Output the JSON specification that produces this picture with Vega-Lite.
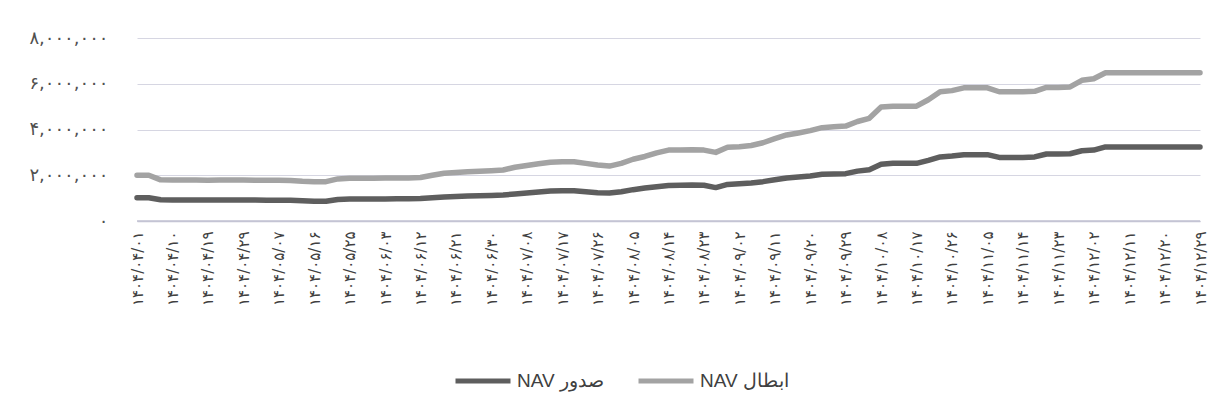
{
  "$schema": "https://vega.github.io/schema/vega-lite/v6.json",
  "width": 1063,
  "height": 183,
  "autosize": {"type": "none"},
  "padding": {"left": 137, "top": 38, "right": 22, "bottom": 195},
  "background": "white",
  "config": {"view": {"stroke": null}},
  "layer": [
    {
      "data": {"values": [
        {"date": "1404/04/01", "issue": 1020000, "redeem": 2000000},
        {"date": "1404/04/04", "issue": 1020000, "redeem": 2000000},
        {"date": "1404/04/07", "issue": 930000, "redeem": 1800000},
        {"date": "1404/04/10", "issue": 920000, "redeem": 1790000},
        {"date": "1404/04/13", "issue": 920000, "redeem": 1790000},
        {"date": "1404/04/16", "issue": 920000, "redeem": 1790000},
        {"date": "1404/04/19", "issue": 915000, "redeem": 1785000},
        {"date": "1404/04/22", "issue": 920000, "redeem": 1790000},
        {"date": "1404/04/25", "issue": 920000, "redeem": 1795000},
        {"date": "1404/04/29", "issue": 920000, "redeem": 1790000},
        {"date": "1404/05/01", "issue": 915000, "redeem": 1785000},
        {"date": "1404/05/04", "issue": 910000, "redeem": 1780000},
        {"date": "1404/05/07", "issue": 910000, "redeem": 1780000},
        {"date": "1404/05/10", "issue": 905000, "redeem": 1775000},
        {"date": "1404/05/13", "issue": 880000, "redeem": 1740000},
        {"date": "1404/05/16", "issue": 860000, "redeem": 1720000},
        {"date": "1404/05/19", "issue": 860000, "redeem": 1720000},
        {"date": "1404/05/22", "issue": 940000, "redeem": 1840000},
        {"date": "1404/05/25", "issue": 960000, "redeem": 1870000},
        {"date": "1404/05/28", "issue": 960000, "redeem": 1870000},
        {"date": "1404/05/31", "issue": 965000, "redeem": 1870000},
        {"date": "1404/06/03", "issue": 965000, "redeem": 1875000},
        {"date": "1404/06/06", "issue": 970000, "redeem": 1880000},
        {"date": "1404/06/09", "issue": 975000, "redeem": 1885000},
        {"date": "1404/06/12", "issue": 985000, "redeem": 1900000},
        {"date": "1404/06/15", "issue": 1020000, "redeem": 2000000},
        {"date": "1404/06/18", "issue": 1050000, "redeem": 2090000},
        {"date": "1404/06/21", "issue": 1070000, "redeem": 2120000},
        {"date": "1404/06/24", "issue": 1090000, "redeem": 2150000},
        {"date": "1404/06/27", "issue": 1100000, "redeem": 2170000},
        {"date": "1404/06/30", "issue": 1120000, "redeem": 2200000},
        {"date": "1404/07/02", "issue": 1140000, "redeem": 2230000},
        {"date": "1404/07/05", "issue": 1180000, "redeem": 2350000},
        {"date": "1404/07/08", "issue": 1220000, "redeem": 2430000},
        {"date": "1404/07/11", "issue": 1270000, "redeem": 2500000},
        {"date": "1404/07/14", "issue": 1310000, "redeem": 2570000},
        {"date": "1404/07/17", "issue": 1320000, "redeem": 2590000},
        {"date": "1404/07/20", "issue": 1320000, "redeem": 2590000},
        {"date": "1404/07/23", "issue": 1280000, "redeem": 2520000},
        {"date": "1404/07/26", "issue": 1240000, "redeem": 2450000},
        {"date": "1404/07/29", "issue": 1220000, "redeem": 2400000},
        {"date": "1404/08/02", "issue": 1280000, "redeem": 2520000},
        {"date": "1404/08/05", "issue": 1370000, "redeem": 2700000},
        {"date": "1404/08/08", "issue": 1440000, "redeem": 2820000},
        {"date": "1404/08/11", "issue": 1500000, "redeem": 2980000},
        {"date": "1404/08/14", "issue": 1550000, "redeem": 3100000},
        {"date": "1404/08/17", "issue": 1560000, "redeem": 3100000},
        {"date": "1404/08/20", "issue": 1570000, "redeem": 3120000},
        {"date": "1404/08/23", "issue": 1560000, "redeem": 3100000},
        {"date": "1404/08/26", "issue": 1460000, "redeem": 3000000},
        {"date": "1404/08/29", "issue": 1600000, "redeem": 3220000},
        {"date": "1404/09/02", "issue": 1630000, "redeem": 3250000},
        {"date": "1404/09/05", "issue": 1660000, "redeem": 3300000},
        {"date": "1404/09/08", "issue": 1720000, "redeem": 3420000},
        {"date": "1404/09/11", "issue": 1800000, "redeem": 3600000},
        {"date": "1404/09/14", "issue": 1880000, "redeem": 3760000},
        {"date": "1404/09/17", "issue": 1920000, "redeem": 3850000},
        {"date": "1404/09/20", "issue": 1970000, "redeem": 3950000},
        {"date": "1404/09/23", "issue": 2040000, "redeem": 4080000},
        {"date": "1404/09/26", "issue": 2060000, "redeem": 4120000},
        {"date": "1404/09/29", "issue": 2070000, "redeem": 4150000},
        {"date": "1404/10/02", "issue": 2180000, "redeem": 4350000},
        {"date": "1404/10/05", "issue": 2240000, "redeem": 4490000},
        {"date": "1404/10/08", "issue": 2480000, "redeem": 4980000},
        {"date": "1404/10/11", "issue": 2520000, "redeem": 5020000},
        {"date": "1404/10/14", "issue": 2520000, "redeem": 5020000},
        {"date": "1404/10/17", "issue": 2520000, "redeem": 5020000},
        {"date": "1404/10/20", "issue": 2650000, "redeem": 5300000},
        {"date": "1404/10/23", "issue": 2800000, "redeem": 5650000},
        {"date": "1404/10/26", "issue": 2840000, "redeem": 5700000},
        {"date": "1404/10/29", "issue": 2900000, "redeem": 5820000},
        {"date": "1404/11/02", "issue": 2900000, "redeem": 5820000},
        {"date": "1404/11/05", "issue": 2900000, "redeem": 5820000},
        {"date": "1404/11/08", "issue": 2780000, "redeem": 5650000},
        {"date": "1404/11/11", "issue": 2780000, "redeem": 5650000},
        {"date": "1404/11/14", "issue": 2780000, "redeem": 5650000},
        {"date": "1404/11/17", "issue": 2800000, "redeem": 5670000},
        {"date": "1404/11/20", "issue": 2930000, "redeem": 5840000},
        {"date": "1404/11/23", "issue": 2930000, "redeem": 5840000},
        {"date": "1404/11/26", "issue": 2940000, "redeem": 5860000},
        {"date": "1404/11/29", "issue": 3070000, "redeem": 6150000},
        {"date": "1404/12/02", "issue": 3100000, "redeem": 6220000},
        {"date": "1404/12/05", "issue": 3240000, "redeem": 6480000},
        {"date": "1404/12/08", "issue": 3240000, "redeem": 6480000},
        {"date": "1404/12/11", "issue": 3240000, "redeem": 6480000},
        {"date": "1404/12/14", "issue": 3240000, "redeem": 6480000},
        {"date": "1404/12/17", "issue": 3240000, "redeem": 6480000},
        {"date": "1404/12/20", "issue": 3240000, "redeem": 6480000},
        {"date": "1404/12/23", "issue": 3240000, "redeem": 6480000},
        {"date": "1404/12/26", "issue": 3240000, "redeem": 6480000},
        {"date": "1404/12/29", "issue": 3240000, "redeem": 6480000}
      ]},
      "transform": [{"fold": ["issue", "redeem"], "as": ["series", "nav"]}],
      "mark": {"type": "line", "strokeWidth": 5.5, "strokeCap": "round", "strokeJoin": "round"},
      "encoding": {
        "x": {
          "field": "date", "type": "ordinal", "sort": null,
          "scale": {"type": "point", "padding": 0},
          "axis": {
            "title": null, "domain": true, "domainColor": "#c4c4d4", "domainWidth": 1.5, "zindex": 2,
            "ticks": false, "grid": false,
            "labelAngle": -90, "labelPadding": 10, "labelFontSize": 15, "labelFont": "DejaVu Sans",
            "labelColor": "#404040",
            "values": ["1404/04/01","1404/04/10","1404/04/19","1404/04/29","1404/05/07","1404/05/16","1404/05/25","1404/06/03","1404/06/12","1404/06/21","1404/06/30","1404/07/08","1404/07/17","1404/07/26","1404/08/05","1404/08/14","1404/08/23","1404/09/02","1404/09/11","1404/09/20","1404/09/29","1404/10/08","1404/10/17","1404/10/26","1404/11/05","1404/11/14","1404/11/23","1404/12/02","1404/12/11","1404/12/20","1404/12/29"],
            "labelExpr": "replace(replace(replace(replace(replace(replace(replace(replace(replace(replace(datum.label, regexp('0','g'), '۰'), regexp('1','g'), '۱'), regexp('2','g'), '۲'), regexp('3','g'), '۳'), regexp('4','g'), '۴'), regexp('5','g'), '۵'), regexp('6','g'), '۶'), regexp('7','g'), '۷'), regexp('8','g'), '۸'), regexp('9','g'), '۹')"
          }
        },
        "y": {
          "field": "nav", "type": "quantitative",
          "scale": {"domain": [0, 8000000], "nice": false},
          "axis": {
            "title": null, "domain": false, "ticks": false, "grid": true,
            "gridColor": "#d6d6e2", "gridWidth": 1,
            "values": [0, 2000000, 4000000, 6000000, 8000000],
            "labelPadding": 29, "labelFontSize": 18, "labelFont": "DejaVu Sans", "labelColor": "#505050",
            "labelExpr": "replace(replace(replace(replace(replace(replace(replace(replace(replace(replace(datum.label, regexp('0','g'), '۰'), regexp('1','g'), '۱'), regexp('2','g'), '۲'), regexp('3','g'), '۳'), regexp('4','g'), '۴'), regexp('5','g'), '۵'), regexp('6','g'), '۶'), regexp('7','g'), '۷'), regexp('8','g'), '۸'), regexp('9','g'), '۹')"
          }
        },
        "color": {
          "field": "series", "type": "nominal",
          "scale": {"domain": ["issue", "redeem"], "range": ["#5e5e5e", "#a3a3a3"]},
          "legend": {
            "title": null, "orient": "none", "direction": "horizontal",
            "legendX": 316, "legendY": 313,
            "symbolType": "stroke", "symbolSize": 3025, "symbolStrokeWidth": 5,
            "labelFontSize": 19, "labelFont": "Liberation Sans", "labelColor": "#404040",
            "labelOffset": 4, "columnPadding": 24, "labelLimit": 300,
            "labelExpr": "datum.value == 'issue' ? 'NAV صدور' : 'NAV ابطال'"
          }
        }
      }
    },
    {
      "data": {"values": [{"nav": 0}]},
      "mark": {"type": "rule", "color": "#c4c4d4", "strokeWidth": 1.6},
      "encoding": {"y": {"field": "nav", "type": "quantitative"}}
    }
  ]
}
